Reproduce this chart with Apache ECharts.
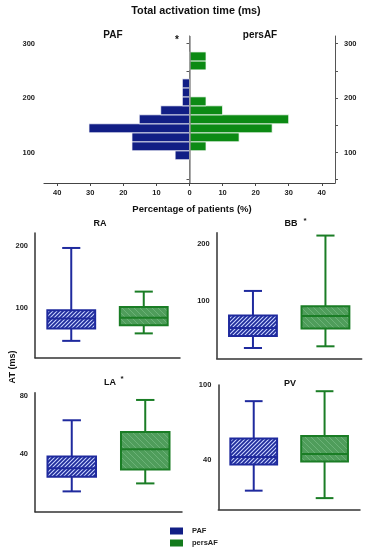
<!DOCTYPE html>
<html><head><meta charset="utf-8">
<script src="https://cdn.jsdelivr.net/npm/echarts@6/dist/echarts.min.js"></script>
<style>html,body{margin:0;padding:0;background:#fff}#c{width:365px;height:550px}</style>
</head><body><div id="c"></div>
<script>
// ---- data ----
const binCenters = [95, 111.5, 128, 144.5, 161, 177.5, 194, 210.5, 227, 243.5, 260, 276.5];
const binWidth = 16.5;
const pafPct  = [4.35, 17.4, 17.4, 30.4, 15.2, 8.7, 2.17, 2.17, 2.17, 0, 0, 0];
const persPct = [0, 5, 15, 25, 30, 10, 5, 0, 0, 0, 5, 5];
const pctTicks = [-40, -30, -20, -10, 0, 10, 20, 30, 40];
const histLabels = [100, 200, 300];
const histTicks = [50, 100, 150, 200, 250, 300];
// box stats: [min, q1, median, q3, max]
const raPAF  = [47, 67, 83, 96, 196];
const raPers = [59, 72, 84, 101.5, 126];
const bbPAF  = [18, 39, 53, 75, 118];
const bbPers = [21, 52, 74, 91, 215];
const laPAF  = [14, 24, 30, 38, 63];
const laPers = [19.5, 29, 43, 55, 77];
const pvPAF  = [15, 36, 42, 57, 87];
const pvPers = [9, 38.5, 44.5, 59, 95];
const groups = ['PAF', 'persAF'];

// ---- styles ----
const NAVY = '#111e85', GREEN = '#0c8a14';
const BOX_NAVY = '#1f2a9e', BOX_GREEN = '#1a7d25';
const FONT = '"Liberation Sans", Arial, sans-serif';
function hatch(bg, fg, size, dir, lw) {
  const c = document.createElement('canvas'); c.width = c.height = size;
  const g = c.getContext('2d'); g.fillStyle = bg; g.fillRect(0, 0, size, size);
  g.strokeStyle = fg; g.lineWidth = lw; g.beginPath();
  if (dir === '/') {
    g.moveTo(-1, size + 1); g.lineTo(size + 1, -1);
    g.moveTo(-2, 2); g.lineTo(2, -2);
    g.moveTo(size - 2, size + 2); g.lineTo(size + 2, size - 2);
  } else {
    g.moveTo(-1, -1); g.lineTo(size + 1, size + 1);
    g.moveTo(-2, size - 2); g.lineTo(2, size + 2);
    g.moveTo(size - 2, -2); g.lineTo(size + 2, 2);
  }
  g.stroke(); return c;
}
const pafFill = { image: hatch('#1d2a9a', '#c9d3ff', 4, '/', 1.1), repeat: 'repeat' };
const persFill = { image: hatch('#4f9d5b', '#6bb277', 6, '\\', 1), repeat: 'repeat' };

const chart = echarts.init(document.getElementById('c'), null, { renderer: 'canvas' });

function histRender(side) {
  return function (params, api) {
    const c = api.value(0), p = api.value(1);
    if (!p) return null;
    const a = api.coord([side * p, c + binWidth / 2]);
    const b = api.coord([0, c - binWidth / 2]);
    const x = Math.min(a[0], b[0]), w = Math.abs(a[0] - b[0]);
    return { type: 'rect', shape: { x: x, y: a[1], width: w, height: b[1] - a[1] },
      style: { fill: side < 0 ? NAVY : GREEN, stroke: 'rgba(255,255,255,0.75)', lineWidth: 1 } };
  };
}
function boxRender(params, api) {
  const idx = api.value(0);
  const v = [1, 2, 3, 4, 5].map(i => api.coord([idx, api.value(i)]));
  const band = api.size([1, 0])[0];
  const cx = v[0][0];
  const bw = band * 0.66, cw = band * 0.25;
  const col = idx === 0 ? BOX_NAVY : BOX_GREEN;
  const fill = idx === 0 ? pafFill : persFill;
  const ls = { stroke: col, lineWidth: 2, fill: null };
  return { type: 'group', children: [
    { type: 'line', shape: { x1: cx, y1: v[0][1], x2: cx, y2: v[1][1] }, style: ls },
    { type: 'line', shape: { x1: cx, y1: v[3][1], x2: cx, y2: v[4][1] }, style: ls },
    { type: 'line', shape: { x1: cx - cw / 2, y1: v[0][1], x2: cx + cw / 2, y2: v[0][1] }, style: ls },
    { type: 'line', shape: { x1: cx - cw / 2, y1: v[4][1], x2: cx + cw / 2, y2: v[4][1] }, style: ls },
    { type: 'rect', shape: { x: cx - bw / 2, y: v[3][1], width: bw, height: v[1][1] - v[3][1] },
      style: { fill: fill, stroke: col, lineWidth: 2 } },
    { type: 'line', shape: { x1: cx - bw / 2, y1: v[2][1], x2: cx + bw / 2, y2: v[2][1] }, style: ls }
  ] };
}

const labelStyle = { fontFamily: FONT, fontWeight: 'bold', fontSize: 7.5, color: '#222' };
const grids = [
  { left: 44, right: 30, top: 36, bottom: 367 },
  { left: 35, right: 185, top: 233, bottom: 192.3 },
  { left: 216.7, right: 3.3, top: 232.7, bottom: 191.7 },
  { left: 35, right: 183, top: 392.7, bottom: 38.3 },
  { left: 218.3, right: 5, top: 385, bottom: 40.7 }
];
const panels = [
  { data: [raPAF, raPers], min: 20, max: 220, labels: [100, 200], ticks: [50, 100, 150, 200] },
  { data: [bbPAF, bbPers], min: 0, max: 220, labels: [100, 200], ticks: [50, 100, 150, 200] },
  { data: [laPAF, laPers], min: 0, max: 82, labels: [40, 80], ticks: [20, 40, 60, 80] },
  { data: [pvPAF, pvPers], min: 0, max: 100, labels: [40, 100], ticks: [20, 40, 60, 80, 100] }
];

const xAxes = [{
  gridIndex: 0, type: 'value', min: -44, max: 44,
  axisLine: { lineStyle: { color: '#444', width: 1.2 } },
  axisTick: { customValues: pctTicks, length: 3, lineStyle: { color: '#444' } },
  axisLabel: { customValues: pctTicks, formatter: v => Math.abs(v), margin: 6, ...labelStyle },
  splitLine: { show: false }
}];
const yAxes = [
  { gridIndex: 0, type: 'value', min: 44, max: 314, position: 'left',
    axisLine: { show: true, lineStyle: { color: '#555', width: 1 } },
    axisTick: { customValues: histTicks, length: 3, lineStyle: { color: '#555' } },
    axisLabel: { customValues: histLabels, margin: 9, ...labelStyle }, splitLine: { show: false } },
  { gridIndex: 0, type: 'value', min: 44, max: 314, position: 'right',
    axisLine: { show: true, lineStyle: { color: '#555', width: 1 } },
    axisTick: { customValues: histTicks, length: 3, lineStyle: { color: '#555' } },
    axisLabel: { customValues: histLabels, margin: 9, ...labelStyle }, splitLine: { show: false } }
];
const series = [
  { name: 'PAF', type: 'custom', xAxisIndex: 0, yAxisIndex: 0, itemStyle: { color: NAVY },
    encode: { x: 1, y: 0 }, renderItem: histRender(-1),
    data: binCenters.map((c, i) => [c, pafPct[i]]),
    markLine: { silent: true, symbol: 'none', label: { show: false },
      lineStyle: { color: '#8c8c8c', width: 1.5, type: 'solid' }, data: [{ xAxis: 0 }] } },
  { name: 'persAF', type: 'custom', xAxisIndex: 0, yAxisIndex: 0, itemStyle: { color: GREEN },
    encode: { x: 1, y: 0 }, renderItem: histRender(1),
    data: binCenters.map((c, i) => [c, persPct[i]]) }
];
panels.forEach((p, k) => {
  const gi = k + 1;
  xAxes.push({ gridIndex: gi, type: 'category', data: groups,
    axisLine: { lineStyle: { color: '#333', width: 1.5 } },
    axisTick: { show: false }, axisLabel: { show: false } });
  yAxes.push({ gridIndex: gi, type: 'value', min: p.min, max: p.max,
    axisLine: { show: true, lineStyle: { color: '#333', width: 1.5 } },
    axisTick: { customValues: p.ticks, length: 3, lineStyle: { color: '#333' } },
    axisLabel: { customValues: p.labels, margin: 7, ...labelStyle }, splitLine: { show: false } });
  series.push({ name: 'box' + k, type: 'custom', xAxisIndex: xAxes.length - 1, yAxisIndex: yAxes.length - 1,
    encode: { x: 0, y: [1, 2, 3, 4, 5] }, renderItem: boxRender,
    data: p.data.map((d, i) => [i].concat(d)) });
});

function txt(x, y, text, size, extra) {
  return Object.assign({ type: 'text', x: x, y: y, silent: true,
    style: { text: text, font: 'bold ' + size + 'px ' + FONT, fill: '#111',
      textAlign: 'center', textVerticalAlign: 'middle' } }, extra || {});
}
chart.setOption({
  animation: false,
  grid: grids,
  xAxis: xAxes, yAxis: yAxes, series: series,
  legend: { data: [{ name: 'PAF', itemStyle: { color: NAVY } }, { name: 'persAF', itemStyle: { color: '#137a1c' } }],
    orient: 'vertical', left: 170, top: 527, height: 22, padding: 0, icon: 'rect',
    itemWidth: 13, itemHeight: 7, itemGap: 4, selectedMode: false,
    textStyle: { fontFamily: FONT, fontWeight: 'bold', fontSize: 7.5, lineHeight: 8, color: '#222', padding: [0, 0, 0, 4] } },
  graphic: [
    txt(196, 11, 'Total activation time (ms)', 10.8),
    txt(113, 35, 'PAF', 10),
    txt(260, 35, 'persAF', 10),
    txt(177, 40, '*', 10),
    txt(192, 209, 'Percentage of patients (%)', 9.5),
    txt(100, 224, 'RA', 9),
    txt(291, 224, 'BB', 9),
    txt(305, 221, '*', 8),
    txt(110, 383, 'LA', 9),
    txt(122, 379, '*', 8),
    txt(290, 384, 'PV', 9),
    txt(13, 367, 'AT (ms)', 9, { rotation: Math.PI / 2 })
  ]
});
</script></body></html>
